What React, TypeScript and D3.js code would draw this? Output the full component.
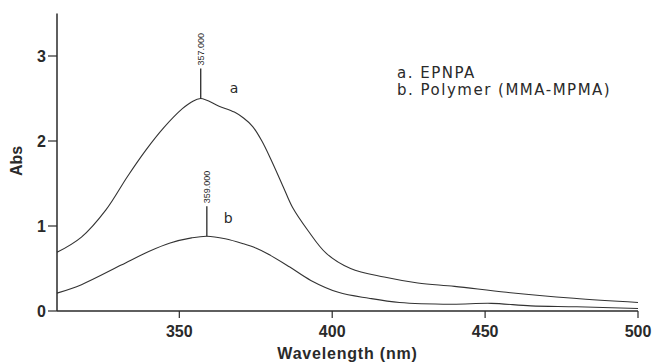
import React, { useEffect, useRef } from "react";
import * as d3 from "d3";

// curve a: EPNPA
const waveA = [310, 318, 326, 333, 339, 345, 351, 354, 357, 363, 368, 371, 374, 377, 380, 384, 387, 392, 398, 406, 417, 428, 440, 457, 479, 500];
const absA = [0.69, 0.87, 1.19, 1.58, 1.89, 2.16, 2.38, 2.46, 2.5, 2.41, 2.34, 2.27, 2.17, 2.0, 1.78, 1.46, 1.22, 0.95, 0.68, 0.5, 0.4, 0.33, 0.29, 0.22, 0.15, 0.1];

// curve b: Polymer (MMA-MPMA)
const waveB = [310, 318, 331, 340, 347, 354, 359, 365, 371, 375, 379, 386, 393, 402, 412, 422, 439, 452, 465, 480, 500];
const absB = [0.21, 0.31, 0.54, 0.7, 0.8, 0.86, 0.88, 0.85, 0.79, 0.74, 0.67, 0.52, 0.36, 0.22, 0.15, 0.1, 0.08, 0.09, 0.06, 0.05, 0.03];

const peaks = [
  { label: "357.000", wave: 357, abs: 2.5 },
  { label: "359.000", wave: 359, abs: 0.88 },
];

const xTicks = [350, 400, 450, 500];
const yTicks = [0, 1, 2, 3];
const legend = ["a. EPNPA", "b. Polymer (MMA-MPMA)"];

const App = () => {
  const ref = useRef<SVGSVGElement>(null);

  useEffect(() => {
    const svg = d3.select(ref.current);
    svg.selectAll("*").remove();

    const left = 57;
    const right = 638;
    const top = 13.5;
    const bottom = 311;

    const x = d3.scaleLinear().domain([310, 500]).range([left, right]);
    const y = d3.scaleLinear().domain([0, 3.5]).range([bottom, top]);

    const ink = "#2a2a2a";
    const axisFont = "'Liberation Sans', Arial, sans-serif";

    const line = d3
      .line<[number, number]>()
      .x((d) => x(d[0]))
      .y((d) => y(d[1]))
      .curve(d3.curveCatmullRom.alpha(0.5));

    const series = [
      waveA.map((w, i) => [w, absA[i]] as [number, number]),
      waveB.map((w, i) => [w, absB[i]] as [number, number]),
    ];

    svg
      .selectAll("path.curve")
      .data(series)
      .enter()
      .append("path")
      .attr("class", "curve")
      .attr("d", (d) => line(d))
      .attr("fill", "none")
      .attr("stroke", "#333")
      .attr("stroke-width", 1.1);

    // axes
    svg.append("line").attr("x1", left).attr("x2", left).attr("y1", top).attr("y2", bottom)
      .attr("stroke", ink).attr("stroke-width", 1.5);
    svg.append("line").attr("x1", left).attr("x2", right).attr("y1", bottom).attr("y2", bottom)
      .attr("stroke", ink).attr("stroke-width", 1.5);

    const yt = svg.append("g");
    yTicks.forEach((t) => {
      yt.append("line").attr("x1", left - 9).attr("x2", left).attr("y1", y(t)).attr("y2", y(t))
        .attr("stroke", ink).attr("stroke-width", 1.2);
      yt.append("text").attr("x", left - 11).attr("y", y(t)).attr("dy", "0.36em")
        .attr("text-anchor", "end").attr("font-family", axisFont).attr("font-weight", "bold")
        .attr("font-size", 16).attr("fill", ink).text(t);
    });

    const xt = svg.append("g");
    xTicks.forEach((t) => {
      xt.append("line").attr("x1", x(t)).attr("x2", x(t)).attr("y1", bottom).attr("y2", bottom + 7)
        .attr("stroke", ink).attr("stroke-width", 1.2);
      xt.append("text").attr("x", x(t)).attr("y", 337)
        .attr("text-anchor", "middle").attr("font-family", axisFont).attr("font-weight", "bold")
        .attr("font-size", 16).attr("fill", ink).text(t);
    });

    svg.append("text").attr("x", (left + right) / 2).attr("y", 359)
      .attr("text-anchor", "middle").attr("font-family", axisFont).attr("font-weight", "bold")
      .attr("font-size", 16).attr("letter-spacing", 0.8).attr("fill", ink).text("Wavelength (nm)");

    svg.append("text").attr("transform", "translate(22,161) rotate(-90)")
      .attr("text-anchor", "middle").attr("font-family", axisFont).attr("font-weight", "bold")
      .attr("font-size", 16).attr("fill", ink).text("Abs");

    // peak markers
    peaks.forEach((p) => {
      const px = x(p.wave);
      const py = y(p.abs);
      svg.append("line").attr("x1", px).attr("x2", px).attr("y1", py).attr("y2", py - 30)
        .attr("stroke", ink).attr("stroke-width", 1.3);
      svg.append("text").attr("transform", `translate(${px + 3},${py - 33}) rotate(-90)`)
        .attr("font-family", axisFont).attr("font-size", 9).attr("fill", ink).text(p.label);
    });

    // curve letters
    const lblFont = "'DejaVu Sans', Verdana, sans-serif";
    svg.append("text").attr("x", x(366.5)).attr("y", y(2.56)).attr("font-family", lblFont)
      .attr("font-size", 14).attr("fill", ink).text("a");
    svg.append("text").attr("x", x(364.5)).attr("y", y(1.03)).attr("font-family", lblFont)
      .attr("font-size", 14).attr("fill", ink).text("b");

    legend.forEach((l, i) => {
      svg.append("text").attr("x", 397).attr("y", 78 + i * 17).attr("font-family", lblFont)
        .attr("font-size", 15).attr("letter-spacing", 1.5).attr("fill", ink).text(l);
    });
  }, []);

  return (
    <svg
      ref={ref}
      width={652}
      height={362}
      style={{ position: "absolute", left: 0, top: 0, background: "#fff" }}
    />
  );
};

export default App;
